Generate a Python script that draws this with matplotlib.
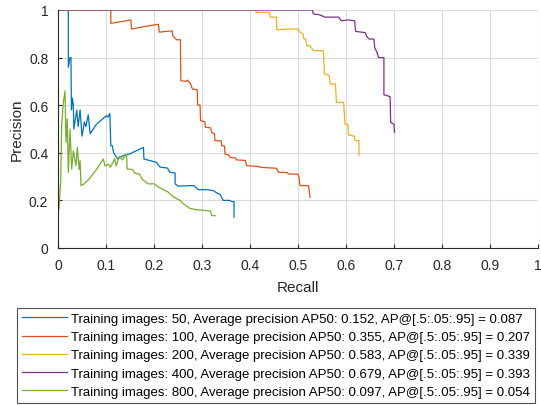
import matplotlib.pyplot as plt

######################################################################
# Precision/recall data
recall_50 = [0.0215, 0.0215, 0.025, 0.027, 0.028, 0.030, 0.032, 0.033, 0.039, 0.042, 0.046, 0.050,
             0.055, 0.058, 0.063, 0.067, 0.080, 0.101, 0.104, 0.108, 0.110, 0.113, 0.116, 0.124,
             0.138, 0.149, 0.171, 0.178, 0.179, 0.192, 0.205, 0.2125, 0.228, 0.233, 0.244, 0.244,
             0.250, 0.275, 0.283, 0.292, 0.310, 0.324, 0.331, 0.338, 0.344, 0.358, 0.362, 0.3667, 0.3667]
prec_50 = [1.0, 0.76, 0.80, 0.80, 0.58, 0.63, 0.60, 0.50, 0.58, 0.51, 0.58, 0.47,
           0.53, 0.51, 0.56, 0.48, 0.52, 0.556, 0.55, 0.565, 0.43, 0.43, 0.40, 0.375,
           0.39, 0.395, 0.416, 0.423, 0.374, 0.367, 0.36, 0.34, 0.336, 0.318, 0.315, 0.27,
           0.26, 0.262, 0.262, 0.245, 0.245, 0.241, 0.231, 0.225, 0.20, 0.20, 0.195, 0.195, 0.13]

recall_100 = [0, 0.110, 0.110, 0.152, 0.153, 0.178, 0.209, 0.211, 0.225, 0.238, 0.239, 0.247,
              0.255, 0.256, 0.265, 0.270, 0.276, 0.280, 0.290, 0.291, 0.296, 0.297, 0.306, 0.307,
              0.318, 0.320, 0.326, 0.327, 0.340, 0.341, 0.347, 0.348, 0.356, 0.358, 0.370, 0.372,
              0.390, 0.393, 0.420, 0.421, 0.455, 0.459, 0.478, 0.480, 0.500, 0.502, 0.504, 0.522, 0.525]
prec_100 = [1, 1, 0.944, 0.958, 0.92, 0.93, 0.94, 0.907, 0.91, 0.912, 0.892, 0.875,
            0.875, 0.703, 0.70, 0.705, 0.69, 0.668, 0.665, 0.601, 0.60, 0.535, 0.53, 0.507,
            0.505, 0.486, 0.48, 0.451, 0.45, 0.43, 0.428, 0.395, 0.39, 0.381, 0.378, 0.37,
            0.368, 0.346, 0.342, 0.339, 0.335, 0.318, 0.317, 0.311, 0.31, 0.297, 0.262, 0.262, 0.213]

recall_200 = [0, 0.4125, 0.4125, 0.44, 0.442, 0.455, 0.456, 0.48, 0.50, 0.504, 0.51, 0.5125,
              0.516, 0.518, 0.525, 0.532, 0.553, 0.555, 0.565, 0.567, 0.578, 0.580, 0.595, 0.598,
              0.604, 0.605, 0.617, 0.619, 0.627, 0.627]
prec_200 = [1, 1, 0.99, 0.99, 0.97, 0.97, 0.917, 0.92, 0.92, 0.907, 0.90, 0.878,
            0.878, 0.85, 0.85, 0.829, 0.829, 0.731, 0.725, 0.689, 0.689, 0.612, 0.612, 0.52,
            0.52, 0.475, 0.47, 0.451, 0.451, 0.388]

recall_400 = [0, 0.53, 0.532, 0.545, 0.556, 0.585, 0.59, 0.605, 0.618, 0.62, 0.64, 0.643,
              0.648, 0.658, 0.66, 0.664, 0.668, 0.679, 0.679, 0.692, 0.693, 0.700, 0.701]
prec_400 = [1, 1, 0.983, 0.98, 0.97, 0.97, 0.955, 0.958, 0.955, 0.91, 0.905, 0.89,
            0.878, 0.878, 0.84, 0.825, 0.80, 0.80, 0.644, 0.636, 0.528, 0.52, 0.486]

recall_800 = [0, 0.0, 0.002, 0.0056, 0.0076, 0.0111, 0.0146, 0.0167, 0.0194, 0.0215, 0.025, 0.0285,
              0.032, 0.0375, 0.0403, 0.044, 0.046, 0.048, 0.055, 0.065, 0.080, 0.0944, 0.098, 0.105,
              0.109, 0.118, 0.121, 0.128, 0.134, 0.143, 0.144, 0.155, 0.16, 0.17, 0.175, 0.188,
              0.20, 0.21, 0.22, 0.23, 0.24, 0.254, 0.262, 0.275, 0.289, 0.305, 0.318, 0.320, 0.327]
prec_800 = [1, 0.164, 0.164, 0.276, 0.514, 0.611, 0.66, 0.444, 0.542, 0.318, 0.50, 0.332,
            0.409, 0.346, 0.423, 0.33, 0.367, 0.262, 0.27, 0.29, 0.33, 0.374, 0.345, 0.352,
            0.339, 0.375, 0.345, 0.385, 0.37, 0.395, 0.332, 0.33, 0.315, 0.31, 0.29, 0.269,
            0.27, 0.255, 0.245, 0.234, 0.215, 0.20, 0.185, 0.166, 0.161, 0.158, 0.155, 0.136, 0.136]

labels = [
    "Training images: 50, Average precision AP50: 0.152, AP@[.5:.05:.95] = 0.087",
    "Training images: 100, Average precision AP50: 0.355, AP@[.5:.05:.95] = 0.207",
    "Training images: 200, Average precision AP50: 0.583, AP@[.5:.05:.95] = 0.339",
    "Training images: 400, Average precision AP50: 0.679, AP@[.5:.05:.95] = 0.393",
    "Training images: 800, Average precision AP50: 0.097, AP@[.5:.05:.95] = 0.054",
]

series = [(recall_50, prec_50), (recall_100, prec_100), (recall_200, prec_200),
          (recall_400, prec_400), (recall_800, prec_800)]
colors = ["#0072BD", "#D95319", "#EDB120", "#7E2F8E", "#77AC30"]

######################################################################
# Figure
plt.rcParams['font.family'] = ['Liberation Sans', 'DejaVu Sans']
fig = plt.figure(figsize=(5.41, 4.06), dpi=100)
ax = fig.add_axes([58 / 541, 1 - 249 / 406, 480 / 541, 238 / 406])

for (r, p), c, lab in zip(series, colors, labels):
    ax.plot(r, p, color=c, linewidth=0.9, label=lab)

ax.set_xlim(0, 1)
ax.set_ylim(0, 1)
ax.set_xticks([i / 10 for i in range(11)])
ax.set_xticklabels(["0", "0.1", "0.2", "0.3", "0.4", "0.5", "0.6", "0.7", "0.8", "0.9", "1"])
ax.set_yticks([0, 0.2, 0.4, 0.6, 0.8, 1])
ax.set_yticklabels(["0", "0.2", "0.4", "0.6", "0.8", "1"])
ax.grid(True, color="#dcdcdc", linewidth=0.8)
ax.set_axisbelow(True)
for side in ["top", "right"]:
    ax.spines[side].set_visible(False)
for side in ["left", "bottom"]:
    ax.spines[side].set_color("#262626")
    ax.spines[side].set_linewidth(0.8)
ax.tick_params(direction="in", length=3, colors="#262626", labelsize=10, pad=7)
ax.set_xlabel("Recall", fontsize=11, color="#262626", labelpad=6)
ax.set_ylabel("Precision", fontsize=11, color="#262626", labelpad=4)

leg = ax.legend(loc="upper left", bbox_to_anchor=(17 / 541, 1 - 309 / 406),
                bbox_transform=fig.transFigure, fontsize=9.55, frameon=True, fancybox=False,
                handlelength=3.4, handletextpad=0.35, labelspacing=0.45, borderpad=0.35,
                borderaxespad=0)
leg.get_frame().set_edgecolor("#262626")
leg.get_frame().set_linewidth(0.8)

fig.savefig("out.png", dpi=100)
